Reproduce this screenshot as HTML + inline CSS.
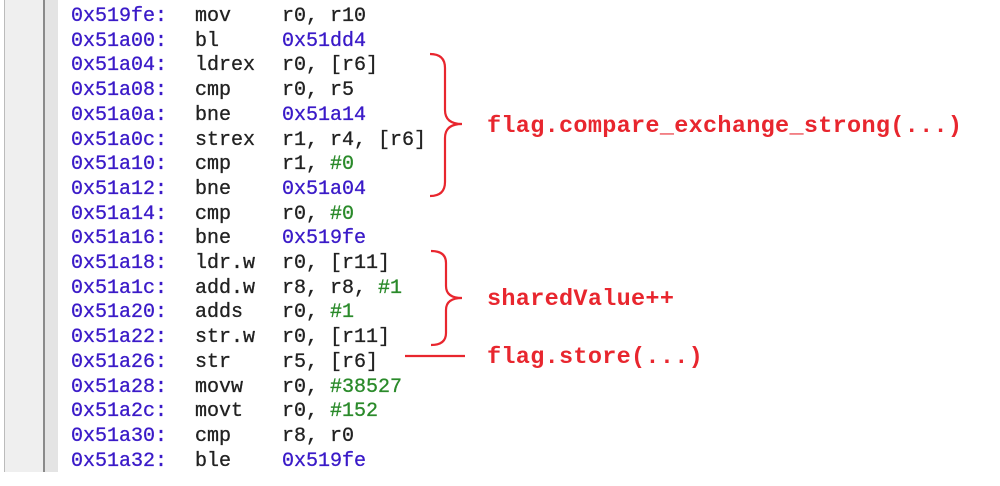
<!DOCTYPE html>
<html><head><meta charset="utf-8"><style>
html,body{margin:0;padding:0;background:#fff;}
body{width:1000px;height:486px;overflow:hidden;position:relative;}
.code{position:absolute;top:5px;font-family:"Liberation Mono",monospace;font-size:20px;line-height:24.7px;color:#222;white-space:pre;-webkit-text-stroke:0.3px;}
.c1{left:71px;color:#3a1ac8}.c2{left:195px}.c3{left:282px}
.a{color:#3a1ac8}.g{color:#2a8a2a}
</style></head><body>
<svg width="1000" height="486" style="position:absolute;left:0;top:0">
<rect x="4" y="0" width="40" height="472" fill="#efefef"/>
<rect x="4" y="0" width="1" height="472" fill="#bbb"/>
<rect x="43" y="0" width="2" height="472" fill="#8a8a8a"/>
<rect x="45" y="0" width="13" height="472" fill="#e4e4e4"/>
<g fill="none" stroke="#e8262e" stroke-width="2.2">
<path d="M430 54 Q445 54 445 68 L445 110 Q445 124 462 124 Q445 124 445 138 L445 182 Q445 196 430 196"/>
<path d="M431 251 Q446 251 446 263 L446 286 Q446 298 462 298 Q446 298 446 310 L446 333 Q446 345 431 345"/>
<path d="M405 356 L465 356"/>
</g>
<g font-family="Liberation Mono,monospace" font-weight="bold" font-size="23.5" fill="#e8262e" letter-spacing="0.3">
<text x="487" y="132">flag.compare_exchange_strong(...)</text>
<text x="487" y="305">sharedValue++</text>
<text x="487" y="363">flag.store(...)</text>
</g>
</svg>
<div class="code c1">0x519fe:
0x51a00:
0x51a04:
0x51a08:
0x51a0a:
0x51a0c:
0x51a10:
0x51a12:
0x51a14:
0x51a16:
0x51a18:
0x51a1c:
0x51a20:
0x51a22:
0x51a26:
0x51a28:
0x51a2c:
0x51a30:
0x51a32:</div>
<div class="code c2">mov
bl
ldrex
cmp
bne
strex
cmp
bne
cmp
bne
ldr.w
add.w
adds
str.w
str
movw
movt
cmp
ble</div>
<div class="code c3">r0, r10
<span class="a">0x51dd4</span>
r0, [r6]
r0, r5
<span class="a">0x51a14</span>
r1, r4, [r6]
r1, <span class="g">#0</span>
<span class="a">0x51a04</span>
r0, <span class="g">#0</span>
<span class="a">0x519fe</span>
r0, [r11]
r8, r8, <span class="g">#1</span>
r0, <span class="g">#1</span>
r0, [r11]
r5, [r6]
r0, <span class="g">#38527</span>
r0, <span class="g">#152</span>
r8, r0
<span class="a">0x519fe</span></div>
</body></html>
